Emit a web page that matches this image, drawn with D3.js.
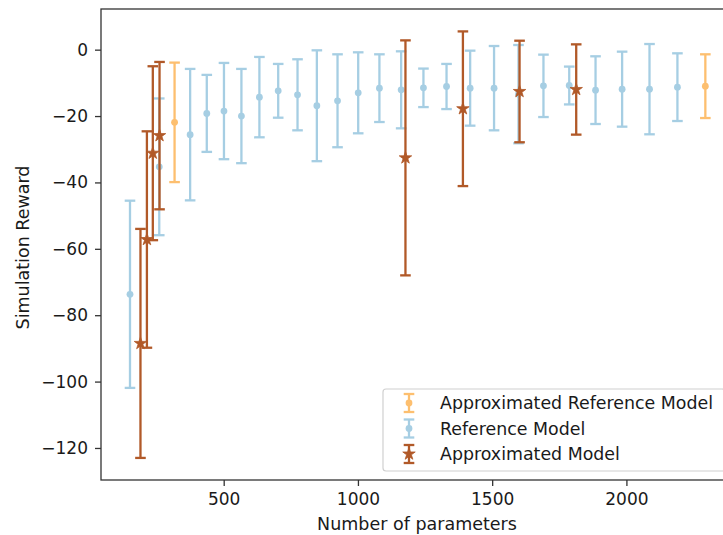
<!DOCTYPE html>
<html>
<head>
<meta charset="utf-8">
<script src="https://cdn.jsdelivr.net/npm/d3@7"></script>
<style>
  body { margin: 0; background: #fff; }
  svg text { font-family: "DejaVu Sans", sans-serif; fill: #1a1a1a; }
</style>
</head>
<body>
<div id="chart"></div>
<script>
// Reference Model
const refX = [151, 260, 375, 437, 501, 566, 633, 703, 775, 847, 924, 1001, 1080, 1161, 1244, 1330, 1418, 1507, 1598, 1691, 1787, 1885, 1984, 2086, 2190];
const refY = [-73.7, -35.3, -25.6, -19.2, -18.5, -20.0, -14.3, -12.4, -13.6, -16.9, -15.4, -13.0, -11.6, -12.1, -11.5, -11.1, -11.6, -11.6, -13.4, -10.9, -10.8, -12.2, -11.9, -11.9, -11.3];
const refErr = [28.2, 20.6, 19.8, 11.6, 14.5, 14.2, 12.1, 8.1, 10.7, 16.7, 14.0, 12.2, 10.2, 11.6, 5.8, 6.8, 11.3, 12.7, 14.8, 9.4, 5.7, 10.2, 11.3, 13.6, 10.2];

// Approximated Reference Model
const apxRefX = [317, 2294];
const apxRefY = [-21.9, -11.0];
const apxRefErr = [18.0, 9.6];

// Approximated Model
const apxX = [190, 214, 236, 261, 1177, 1391, 1602, 1813];
const apxY = [-88.5, -57.2, -31.2, -25.9, -32.6, -17.8, -12.6, -12.0];
const apxErr = [34.5, 32.6, 26.2, 22.2, 35.4, 23.3, 15.3, 13.6];

const xTicks = [500, 1000, 1500, 2000];
const yTicks = [0, -20, -40, -60, -80, -100, -120];

const width = 723, height = 535;
const margin = { left: 101, top: 9, right: 733, bottom: 480 };

const series = [
  { name: "Approximated Reference Model", color: "#fdbf6f", marker: "circle", x: apxRefX, y: apxRefY, e: apxRefErr },
  { name: "Reference Model", color: "#a6cee3", marker: "circle", x: refX, y: refY, e: refErr },
  { name: "Approximated Model", color: "#b15928", marker: "star", x: apxX, y: apxY, e: apxErr },
];

const x = d3.scaleLinear().domain([43, 2397]).range([margin.left, margin.right]);
const y = d3.scaleLinear().domain([-129.65, 12.25]).range([margin.bottom, margin.top]);

const svg = d3.select("#chart").append("svg")
  .attr("width", width)
  .attr("height", height);

const capW = 5.3;
const lw = 2.3;

function drawMarker(g, s, cx, cy) {
  if (s.marker === "star") {
    g.append("path")
      .attr("d", d3.symbol(d3.symbolStar, 48)())
      .attr("transform", `translate(${cx},${cy})`)
      .attr("fill", s.color)
      .attr("stroke", s.color).attr("stroke-width", 0.8).attr("stroke-linejoin", "round");
  } else {
    g.append("circle").attr("cx", cx).attr("cy", cy).attr("r", 3.4).attr("fill", s.color);
  }
}

function drawBar(g, s, cx, top, bot) {
  g.append("line").attr("x1", cx).attr("x2", cx).attr("y1", top).attr("y2", bot)
    .attr("stroke", s.color).attr("stroke-width", lw);
  [top, bot].forEach(yy => {
    g.append("line").attr("x1", cx - capW).attr("x2", cx + capW).attr("y1", yy).attr("y2", yy)
      .attr("stroke", s.color).attr("stroke-width", lw);
  });
}

series.forEach(s => {
  const g = svg.append("g");
  s.x.forEach((xv, i) => {
    const cx = x(xv);
    drawBar(g, s, cx, y(s.y[i] + s.e[i]), y(s.y[i] - s.e[i]));
    drawMarker(g, s, cx, y(s.y[i]));
  });
});

// axes
const xAxis = svg.append("g")
  .attr("transform", `translate(0,${margin.bottom})`)
  .call(d3.axisBottom(x).tickValues(xTicks).tickFormat(d3.format("d")).tickSize(6).tickPadding(7));
const yAxis = svg.append("g")
  .attr("transform", `translate(${margin.left},0)`)
  .call(d3.axisLeft(y).tickValues(yTicks).tickSize(6).tickPadding(7));

[xAxis, yAxis].forEach(a => {
  a.attr("font-size", 17);
  a.selectAll("text").style("font-size", "17px").style("fill", "#1a1a1a");
  a.selectAll("line").attr("stroke", "#333").attr("stroke-width", 1.3);
  a.select(".domain").remove();
});

// frame
svg.append("rect")
  .attr("x", margin.left).attr("y", margin.top)
  .attr("width", margin.right - margin.left).attr("height", margin.bottom - margin.top)
  .attr("fill", "none").attr("stroke", "#333").attr("stroke-width", 1.3);

svg.append("text")
  .attr("x", (margin.left + margin.right) / 2).attr("y", 530)
  .attr("text-anchor", "middle").style("font-size", "17.5px")
  .text("Number of parameters");

svg.append("text")
  .attr("transform", `translate(28.5,${(margin.top + margin.bottom) / 2 + 3}) rotate(-90)`)
  .attr("text-anchor", "middle").style("font-size", "17.5px")
  .text("Simulation Reward");

// legend
const lg = svg.append("g");
lg.append("rect")
  .attr("x", 383).attr("y", 389).attr("width", 342).attr("height", 82).attr("rx", 3)
  .attr("fill", "rgba(255,255,255,0.8)").attr("stroke", "#d0d0d0").attr("stroke-width", 1.2);
series.forEach((s, i) => {
  const cy = 403 + i * 25.5, cx = 409;
  drawBar(lg, s, cx, cy - 9, cy + 9);
  drawMarker(lg, s, cx, cy);
  lg.append("text").attr("x", 440).attr("y", cy + 6).style("font-size", "17.4px").text(s.name);
});
</script>
</body>
</html>
